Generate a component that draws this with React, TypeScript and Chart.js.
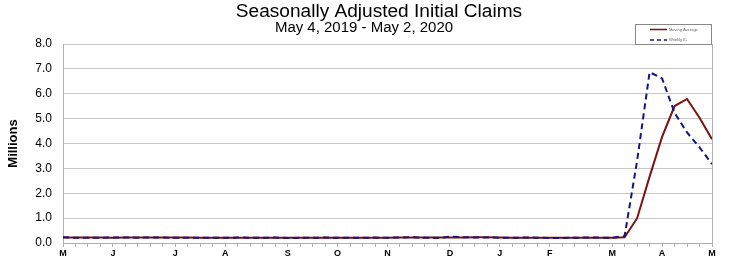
import React, { useEffect, useRef } from "react";
import { Chart, registerables } from "chart.js";

Chart.register(...registerables);

const TITLE = "Seasonally Adjusted Initial Claims";
const SUBTITLE = "May 4, 2019 - May 2, 2020";
const Y_TITLE = "Millions";

// weekly categories (week ending dates) May 4, 2019 .. May 2, 2020
const weekDates: string[] = (() => {
  const out: string[] = [];
  const d = new Date(Date.UTC(2019, 4, 4));
  for (let i = 0; i < 53; i++) {
    out.push(d.toISOString().slice(0, 10));
    d.setUTCDate(d.getUTCDate() + 7);
  }
  return out;
})();

const monthTickIndex = [0, 4, 9, 13, 18, 22, 26, 31, 35, 39, 44, 48, 52];
const monthTickLabels = ["M", "J", "J", "A", "S", "O", "N", "D", "J", "F", "M", "A", "M"];

const yTicks = [0, 1, 2, 3, 4, 5, 6, 7, 8];

// Millions
const weeklyIC = [
  0.228, 0.212, 0.212, 0.215, 0.218, 0.222, 0.216, 0.227, 0.221, 0.209,
  0.216, 0.206, 0.215, 0.209, 0.22, 0.211, 0.215, 0.217, 0.204, 0.208,
  0.213, 0.219, 0.21, 0.214, 0.212, 0.218, 0.211, 0.225, 0.227, 0.213,
  0.203, 0.252, 0.235, 0.222, 0.22, 0.212, 0.207, 0.22, 0.216, 0.204,
  0.205, 0.211, 0.219, 0.217, 0.211, 0.282, 3.307, 6.867, 6.615, 5.237,
  4.442, 3.846, 3.169,
];

const movingAverage = [
  0.22, 0.222, 0.219, 0.217, 0.214, 0.217, 0.218, 0.221, 0.222, 0.218,
  0.218, 0.213, 0.212, 0.212, 0.215, 0.214, 0.214, 0.216, 0.212, 0.211,
  0.211, 0.211, 0.213, 0.214, 0.214, 0.214, 0.214, 0.217, 0.22, 0.219,
  0.217, 0.224, 0.226, 0.228, 0.232, 0.222, 0.215, 0.215, 0.214, 0.212,
  0.211, 0.209, 0.21, 0.213, 0.215, 0.232, 0.998, 2.667, 4.268, 5.507,
  5.79, 5.035, 4.173,
];

const MA_COLOR = "#7a1212";
const IC_COLOR = "#141482";
const FONT = "'Liberation Sans', Arial, sans-serif";

function stretchedText(ctx: any, text: string, cx: number, y: number, sx: number) {
  ctx.save();
  ctx.translate(cx, y);
  ctx.scale(sx, 1);
  ctx.fillText(text, 0, 0);
  ctx.restore();
}

const titlePlugin = {
  id: "customTitles",
  afterDraw(chart: any) {
    const ctx = chart.ctx;
    ctx.save();
    ctx.fillStyle = "#000";
    ctx.textAlign = "center";
    ctx.textBaseline = "alphabetic";
    ctx.font = `17.5px ${FONT}`;
    stretchedText(ctx, TITLE, 379, 16.5, 1.09);
    ctx.font = `14px ${FONT}`;
    stretchedText(ctx, SUBTITLE, 364, 32, 1.07);

    // legend box
    const x = 635, y = 24, w = 76, h = 20;
    ctx.fillStyle = "#fff";
    ctx.fillRect(x, y, w, h);
    ctx.strokeStyle = "#888";
    ctx.lineWidth = 1;
    ctx.strokeRect(x + 0.5, y + 0.5, w, h);
    ctx.lineWidth = 1.5;
    ctx.strokeStyle = MA_COLOR;
    ctx.beginPath();
    ctx.moveTo(650, 29.5);
    ctx.lineTo(667, 29.5);
    ctx.stroke();
    ctx.strokeStyle = IC_COLOR;
    ctx.setLineDash([4, 3]);
    ctx.beginPath();
    ctx.moveTo(650, 40);
    ctx.lineTo(667, 40);
    ctx.stroke();
    ctx.setLineDash([]);
    ctx.fillStyle = "#666";
    ctx.textAlign = "left";
    ctx.textBaseline = "middle";
    ctx.font = `4px ${FONT}`;
    ctx.fillText("Moving Average", 669, 29.5);
    ctx.fillText("Weekly IC", 669, 40);
    ctx.restore();
  },
};

const borderPlugin = {
  id: "rightBorder",
  afterDatasetsDraw(chart: any) {
    const { ctx, chartArea } = chart;
    ctx.save();
    ctx.strokeStyle = "#b0b0b0";
    ctx.lineWidth = 1;
    ctx.beginPath();
    ctx.moveTo(Math.round(chartArea.right) + 0.5, chartArea.top);
    ctx.lineTo(Math.round(chartArea.right) + 0.5, chartArea.bottom);
    ctx.stroke();
    ctx.restore();
  },
};

export default function App() {
  const ref = useRef<HTMLCanvasElement>(null);
  useEffect(() => {
    if (!ref.current) return;
    const chart = new Chart(ref.current, {
      type: "line",
      data: {
        labels: weekDates,
        datasets: [
          {
            label: "Weekly IC",
            data: weeklyIC,
            borderColor: IC_COLOR,
            borderWidth: 2,
            borderDash: [6, 4],
            pointRadius: 0,
            tension: 0,
            order: 0,
          },
          {
            label: "Moving Average",
            data: movingAverage,
            borderColor: MA_COLOR,
            borderWidth: 2,
            pointRadius: 0,
            tension: 0,
            order: 1,
          },
        ],
      },
      options: {
        responsive: false,
        animation: false,
        layout: { padding: { left: 0, right: 37, top: 44, bottom: 0 } },
        plugins: {
          legend: { display: false },
          title: { display: false },
          tooltip: { enabled: false },
        },
        scales: {
          x: {
            type: "category",
            offset: false,
            afterFit(scale: any) {
              scale.height = 21;
            },
            grid: {
              drawOnChartArea: false,
              drawTicks: true,
              tickLength: 4,
              color: "#b0b0b0",
            },
            border: { display: true, color: "#b0b0b0" },
            ticks: {
              autoSkip: false,
              maxRotation: 0,
              padding: 1,
              color: "#000",
              font: { family: FONT, size: 9, weight: "bold" },
              callback(_v: any, i: number) {
                const k = monthTickIndex.indexOf(i);
                return k >= 0 ? monthTickLabels[k] : "";
              },
            },
          },
          y: {
            min: 0,
            max: 8,
            afterFit(scale: any) {
              scale.width = 63;
            },
            afterBuildTicks(scale: any) {
              scale.ticks = yTicks.map((v) => ({ value: v }));
            },
            grid: { color: "#c8c8c8", drawTicks: false },
            border: { display: true, color: "#b0b0b0" },
            ticks: {
              padding: 11,
              color: "#000",
              font: { family: FONT, size: 12 },
              callback(v: any) {
                return Number(v).toFixed(1);
              },
            },
            title: {
              display: true,
              text: Y_TITLE,
              color: "#000",
              font: { family: FONT, size: 13, weight: "bold" },
              padding: { top: 6, bottom: 0 },
            },
          },
        },
      },
      plugins: [titlePlugin, borderPlugin],
    });
    return () => chart.destroy();
  }, []);
  return (
    <div style={{ position: "absolute", left: 0, top: 0, background: "#fff" }}>
      <canvas ref={ref} width={749} height={264} />
    </div>
  );
}
